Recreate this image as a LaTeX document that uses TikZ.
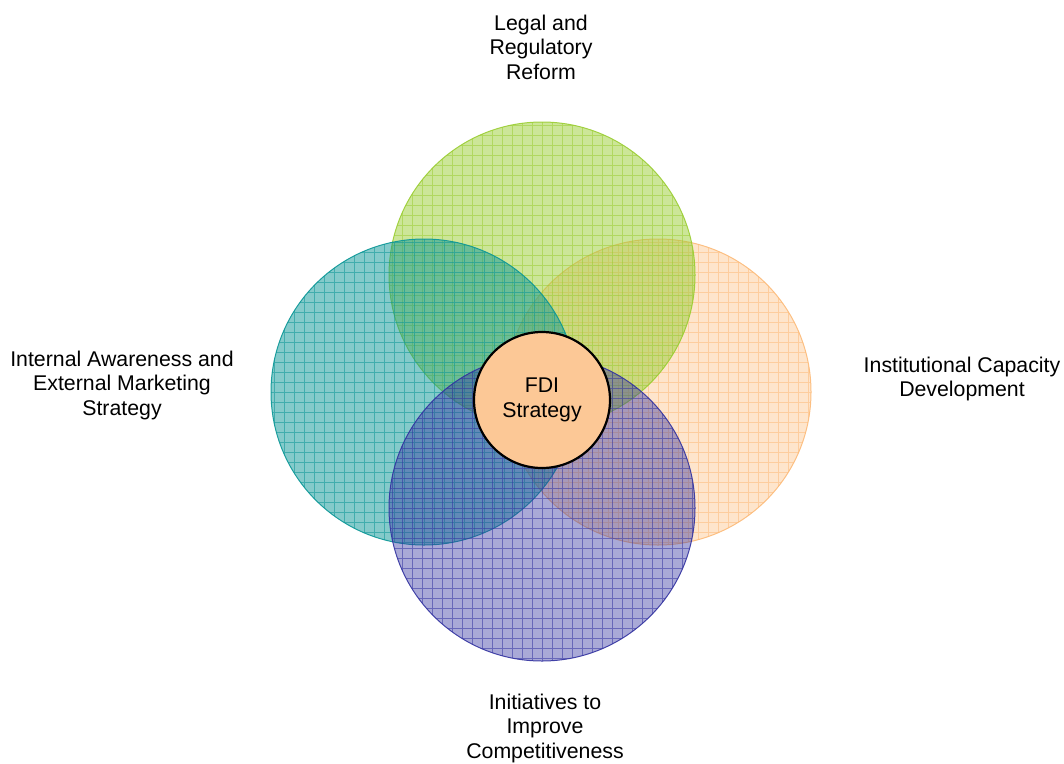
\documentclass[tikz,border=0pt]{standalone}
\usepackage{fontspec}
\setmainfont{Liberation Sans}
\definecolor{cLegal}{RGB}{154,205,50}
\definecolor{cInst}{RGB}{252,186,120}
\definecolor{cIntern}{RGB}{10,150,150}
\definecolor{cInit}{RGB}{50,50,160}
\definecolor{cCore}{RGB}{252,200,150}
\begin{document}
\begin{tikzpicture}[x=1pt,y=-1pt,line join=round,line cap=round,
	font=\fontsize{21.3}{24.5}\selectfont,
	venn/.style 2 args={circle,minimum size=306pt,inner sep=0pt,draw=#1,line width=1pt,
		fill=#1,fill opacity=#2,draw opacity=.9,
		path picture={\draw[#1,line width=.7pt,opacity=.55,step=10pt]
			(path picture bounding box.south west) grid (path picture bounding box.north east);}},
	core/.style={circle,minimum size=136pt,inner sep=0pt,draw=black,line width=2.2pt,
		fill=cCore,align=center},
	lbl/.style={align=center,text=black}]
	\useasboundingbox (0,0) rectangle (1064,763);
	%Bốn hình tròn
	\node[venn={cInst}{.38}] (inst) at (658,392) {};
	\node[venn={cLegal}{.5}] (legal) at (542,275) {};
	\node[venn={cIntern}{.5}] (intern) at (424,392) {};
	\node[venn={cInit}{.42}] (init) at (542,508) {};
	%Hình tròn giữa
	\node[core] (fdi) at (542,400) {FDI\\Strategy};
	%Nhãn
	\foreach \n/\p/\t in {legal/{(541,47)}/{Legal and\\Regulatory\\Reform},
		intern/{(122,385)}/{Internal Awareness and\\External Marketing\\Strategy},
		inst/{(962,379)}/{Institutional Capacity\\Development},
		init/{(545,728)}/{Initiatives to\\Improve\\Competitiveness}}{
		\node[lbl] (\n-lbl) at \p {\t};}
\end{tikzpicture}
\end{document}
